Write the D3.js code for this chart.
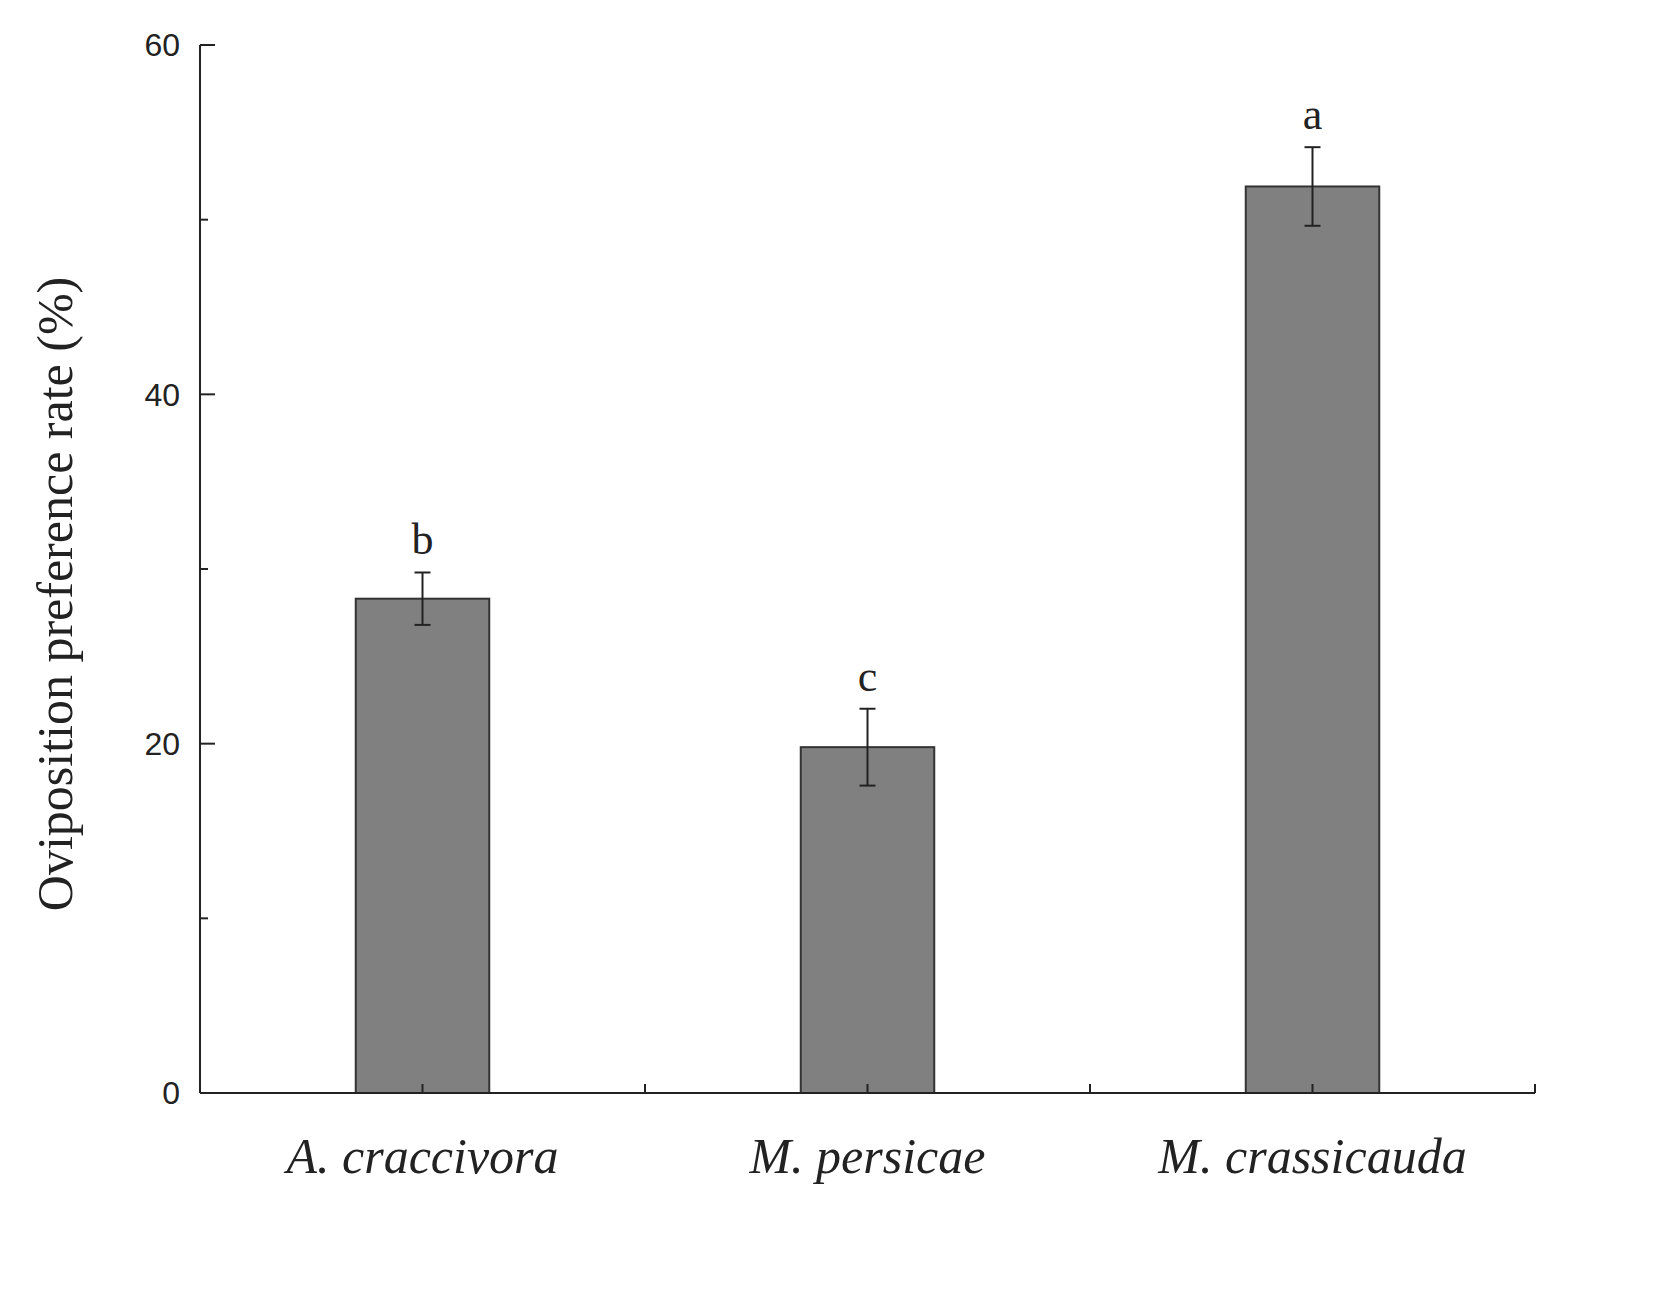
<html>
<head>
<script src="https://d3js.org/d3.v7.min.js"></script>
<style>
  body { margin: 0; background: white; }
</style>
</head>
<body>
<svg id="chart" width="1670" height="1305"></svg>
<script>
  const categories = ["A. craccivora", "M. persicae", "M. crassicauda"];
  const values = [28.3, 19.8, 51.9];
  const errors = [1.5, 2.2, 2.25];
  const letters = ["b", "c", "a"];
  const majorTicks = [0, 20, 40, 60];
  const minorTicks = [10, 30, 50];

  const svg = d3.select("#chart");
  const plotLeft = 200, plotRight = 1535, plotTop = 45, plotBottom = 1093;

  const x = d3.scaleBand().domain(categories).range([plotLeft, plotRight]).paddingInner(0.7).paddingOuter(0.35);
  const y = d3.scaleLinear().domain([0, 60]).range([plotBottom, plotTop]);
  const step = x.step();
  const cxOf = c => x(c) + x.bandwidth() / 2;

  // bars
  svg.selectAll("rect.bar").data(categories).enter().append("rect")
    .attr("x", c => x(c))
    .attr("width", x.bandwidth())
    .attr("y", (c, i) => y(values[i]))
    .attr("height", (c, i) => plotBottom - y(values[i]))
    .attr("fill", "#808080").attr("stroke", "#333").attr("stroke-width", 2);

  // error bars + letters
  categories.forEach((c, i) => {
    const cx = cxOf(c), v = values[i];
    svg.append("line").attr("x1", cx).attr("x2", cx).attr("y1", y(v + errors[i])).attr("y2", y(v - errors[i]))
      .attr("stroke", "#222").attr("stroke-width", 2);
    [v + errors[i], v - errors[i]].forEach(e => {
      svg.append("line").attr("x1", cx - 8).attr("x2", cx + 8).attr("y1", y(e)).attr("y2", y(e))
        .attr("stroke", "#222").attr("stroke-width", 2);
    });
    svg.append("text").attr("x", cx).attr("y", y(v + errors[i]) - 18)
      .attr("text-anchor", "middle").attr("font-family", "Liberation Serif").attr("font-size", 44)
      .attr("fill", "#222").text(letters[i]);
  });

  // axis lines
  svg.append("line").attr("x1", plotLeft).attr("x2", plotLeft).attr("y1", plotTop).attr("y2", plotBottom).attr("stroke", "#222").attr("stroke-width", 2);
  svg.append("line").attr("x1", plotLeft).attr("x2", plotRight).attr("y1", plotBottom).attr("y2", plotBottom).attr("stroke", "#222").attr("stroke-width", 2);

  // y ticks (inward)
  majorTicks.forEach(t => {
    svg.append("line").attr("x1", plotLeft).attr("x2", plotLeft + 15).attr("y1", y(t)).attr("y2", y(t)).attr("stroke", "#222").attr("stroke-width", 2);
    svg.append("text").attr("x", plotLeft - 20).attr("y", y(t)).attr("dy", "0.35em")
      .attr("text-anchor", "end").attr("font-family", "Liberation Sans").attr("font-size", 32).attr("fill", "#222").text(t);
  });
  minorTicks.forEach(t => {
    svg.append("line").attr("x1", plotLeft).attr("x2", plotLeft + 8).attr("y1", y(t)).attr("y2", y(t)).attr("stroke", "#222").attr("stroke-width", 2);
  });

  // x ticks (inward)
  const xt = categories.map(cxOf);
  for (let i = 0; i <= categories.length; i++) xt.push(plotLeft + step * i);
  xt.forEach(px => {
    svg.append("line").attr("x1", px).attr("x2", px).attr("y1", plotBottom).attr("y2", plotBottom - 9).attr("stroke", "#222").attr("stroke-width", 2);
  });

  // x labels
  categories.forEach(c => {
    svg.append("text").attr("x", cxOf(c)).attr("y", 1173)
      .attr("text-anchor", "middle").attr("font-family", "Liberation Serif").attr("font-style", "italic")
      .attr("font-size", 50).attr("fill", "#222").text(c);
  });

  // y title
  svg.append("text").attr("transform", `translate(72, ${(plotTop + plotBottom) / 2 + 25}) rotate(-90)`)
    .attr("text-anchor", "middle").attr("font-family", "Liberation Serif").attr("font-size", 50).attr("fill", "#222")
    .text("Oviposition preference rate (%)");
</script>
</body>
</html>
